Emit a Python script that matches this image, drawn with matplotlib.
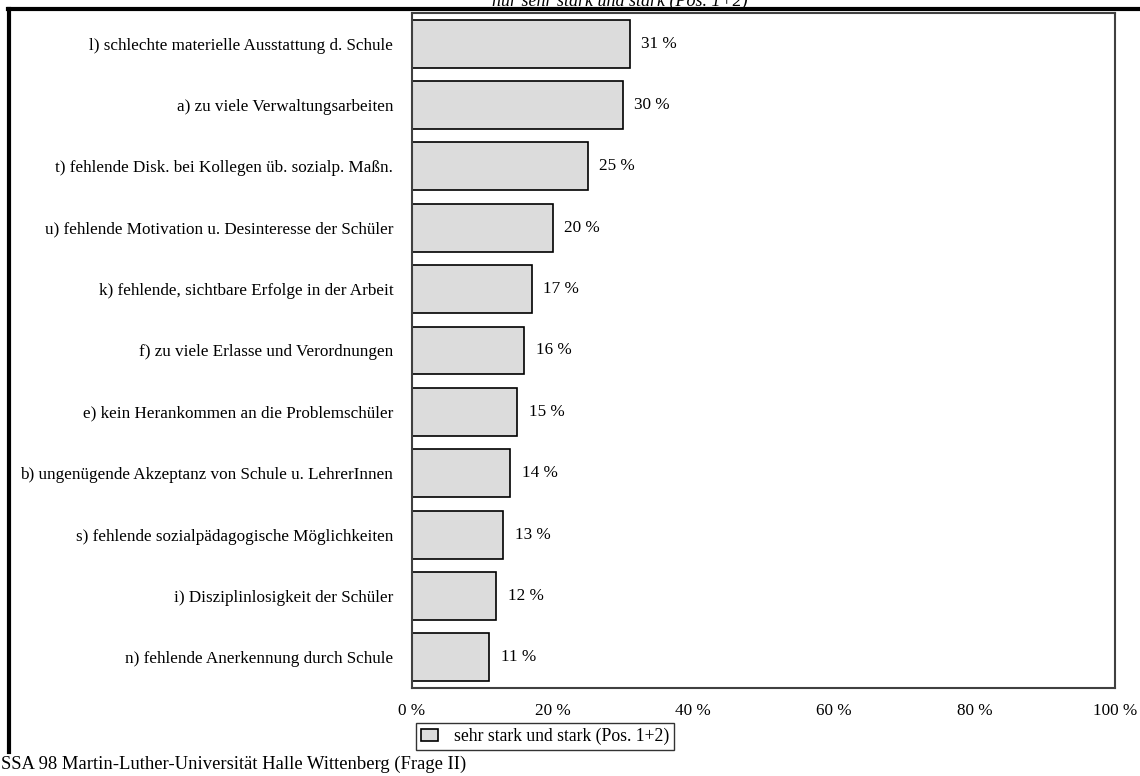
import matplotlib.pyplot as plt
from matplotlib.lines import Line2D

# Belastungsfaktoren, nur sehr stark und stark (Pos. 1+2)
kategorien = [
    'l) schlechte materielle Ausstattung d. Schule',
    'a) zu viele Verwaltungsarbeiten',
    't) fehlende Disk. bei Kollegen üb. sozialp. Maßn.',
    'u) fehlende Motivation u. Desinteresse der Schüler',
    'k) fehlende, sichtbare Erfolge in der Arbeit',
    'f) zu viele Erlasse und Verordnungen',
    'e) kein Herankommen an die Problemschüler',
    'b) ungenügende Akzeptanz von Schule u. LehrerInnen',
    's) fehlende sozialpädagogische Möglichkeiten',
    'i) Disziplinlosigkeit der Schüler',
    'n) fehlende Anerkennung durch Schule',
]
werte = [31, 30, 25, 20, 17, 16, 15, 14, 13, 12, 11]
xticks = [0, 20, 40, 60, 80, 100]

plt.rcParams['font.family'] = ['Liberation Serif', 'DejaVu Serif']
fs = 12.3

fig = plt.figure(figsize=(11.4, 7.76), dpi=100)
ax = fig.add_axes([412/1140, 1-688/776, 703/1140, 675/776])

y = list(range(len(kategorien)))
ax.barh(y, werte, height=0.78, color='#dcdcdc', edgecolor='black', linewidth=1.2,
        label='sehr stark und stark (Pos. 1+2)')
for yi, w in zip(y, werte):
    ax.text(w + 1.6, yi, f'{w} %', va='center', ha='left', fontsize=fs)

ax.set_xlim(0, 100)
ax.set_ylim(len(kategorien) - 0.5, -0.5)
ax.set_yticks(y)
ax.set_yticklabels(kategorien, fontsize=fs)
ax.set_xticks(xticks)
ax.set_xticklabels([f'{t} %' for t in xticks], fontsize=fs)
ax.tick_params(length=0, pad=10.5)
ax.tick_params(axis='y', pad=13.5)
for s in ax.spines.values():
    s.set_color('#404040')
    s.set_linewidth(1.5)

ax.legend(loc='upper center', bbox_to_anchor=(545/1140, 1-723/776), bbox_transform=fig.transFigure,
          fontsize=12.7, frameon=True, fancybox=False, edgecolor='black', handlelength=1.0,
          handleheight=0.7, borderpad=0.28, borderaxespad=0, handletextpad=0.9).get_frame().set_linewidth(1.0)

# Titel (oben angeschnitten) und Rahmenlinien
fig.text(620/1140, 1-1/776, 'nur sehr stark und stark (Pos. 1+2)', ha='center', va='center',
         fontsize=13, style='italic')
fig.add_artist(Line2D([8/1140, 1], [1-9/776, 1-9/776], color='black', linewidth=3,
                      transform=fig.transFigure))
fig.add_artist(Line2D([9/1140, 9/1140], [1-9/776, 1-752/776], color='black', linewidth=3,
                      transform=fig.transFigure))

fig.text(1/1140, 1-764/776, 'SSA 98 Martin-Luther-Universität Halle Wittenberg (Frage II)',
         ha='left', va='center', fontsize=13.4)

fig.savefig('out.png', dpi=100)
